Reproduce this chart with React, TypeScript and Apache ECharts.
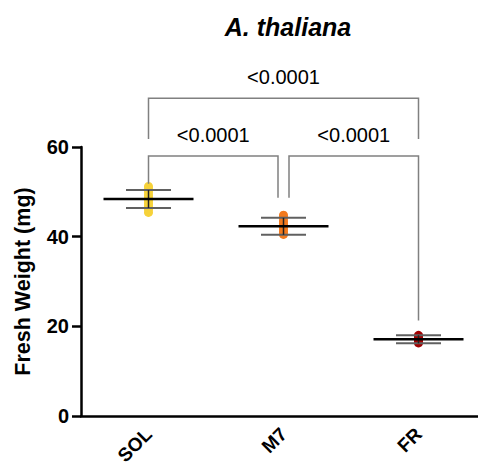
import React, { useEffect, useRef } from 'react';
import * as echarts from 'echarts';

const categories = ['SOL', 'M7', 'FR'];
const solValues = [51.2, 50.6, 50.0, 49.3, 48.7, 48.0, 47.4, 46.8, 46.1, 45.4];
const m7Values = [44.8, 44.2, 43.5, 42.9, 42.3, 41.7, 41.1, 40.5];
const frValues = [18.0, 17.6, 17.3, 17.0, 16.7, 16.3];
const means = [48.4, 42.3, 17.1];
const sds = [2.0, 1.9, 0.9];
const groupColors = ['#F6D23A', '#F27A1F', '#A00000'];
const yTicks = [0, 20, 40, 60];
// [fromCategory, toCategory, barValue, leftLegEndValue, rightLegEndValue]
const brackets = [
  [0, 1, 58, 51.8, 48.7],
  [1, 2, 58, 48.7, 21.3],
  [0, 2, 70.9, 61.8, 61.8],
];
const pLabels = ['<0.0001', '<0.0001', '<0.0001'];

const FONT = '"Liberation Sans", Arial, Helvetica, sans-serif';

export default function App() {
  const ref = useRef<HTMLDivElement>(null);
  useEffect(() => {
    const chart = echarts.init(ref.current!, null, { renderer: 'svg' });
    const groups = [solValues, m7Values, frValues];
    const insets = [[0, -5.5], [5.5, 0], [0, 0]];
    chart.setOption({
      animation: false,
      backgroundColor: '#fff',
      title: {
        text: 'A. thaliana',
        left: 283,
        top: 9,
        textAlign: 'center',
        textStyle: { fontFamily: FONT, fontSize: 25, fontWeight: 'bold', fontStyle: 'italic', color: '#000' },
      },
      grid: { left: 81, right: -8, top: 147, bottom: 52, containLabel: false, outerBoundsMode: 'none' },
      xAxis: {
        type: 'category',
        data: categories,
        boundaryGap: true,
        axisLine: { lineStyle: { color: '#000', width: 2.5 } },
        axisTick: { alignWithLabel: true, length: 8, lineStyle: { color: '#000', width: 2.5 } },
        axisLabel: { rotate: 45, margin: 15, fontFamily: FONT, fontSize: 19, fontWeight: 'bold', color: '#000' },
      },
      yAxis: {
        type: 'value',
        min: yTicks[0],
        max: yTicks[yTicks.length - 1],
        interval: 20,
        name: 'Fresh Weight (mg)',
        nameLocation: 'middle',
        nameRotate: 90,
        nameGap: 47,
        nameTextStyle: { fontFamily: FONT, fontSize: 21.5, fontWeight: 'bold', color: '#000' },
        axisLine: { show: true, lineStyle: { color: '#000', width: 2.5 } },
        axisTick: { show: true, length: 9, inside: false, lineStyle: { color: '#000', width: 2.5 } },
        axisLabel: { margin: 12, fontFamily: FONT, fontSize: 20, fontWeight: 'bold', color: '#000' },
        splitLine: { show: false },
      },
      series: [
        ...groups.map((vals, gi) => ({
          type: 'scatter',
          data: vals.map((v) => [gi, v]),
          symbol: 'circle',
          symbolSize: 9,
          itemStyle: { color: groupColors[gi], opacity: 1 },
          z: 2,
        })),
        {
          type: 'custom',
          z: 3,
          data: means.map((m, i) => [i, m, sds[i]]),
          encode: { x: 0, y: 1 },
          renderItem: (params: any, api: any) => {
            const x = api.value(0);
            const m = api.value(1);
            const s = api.value(2);
            const c = api.coord([x, m]);
            const t = api.coord([x, m + s]);
            const b = api.coord([x, m - s]);
            const capW = 22.5;
            const meanW = 45;
            return {
              type: 'group',
              children: [
                { type: 'line', shape: { x1: c[0] - capW, y1: t[1], x2: c[0] + capW, y2: t[1] }, style: { stroke: '#606060', lineWidth: 2 } },
                { type: 'line', shape: { x1: c[0] - capW, y1: b[1], x2: c[0] + capW, y2: b[1] }, style: { stroke: '#606060', lineWidth: 2 } },
                { type: 'line', shape: { x1: c[0], y1: t[1], x2: c[0], y2: b[1] }, style: { stroke: '#222', lineWidth: 1.5 } },
                { type: 'line', shape: { x1: c[0] - meanW, y1: c[1], x2: c[0] + meanW, y2: c[1] }, style: { stroke: '#000', lineWidth: 2.5 } },
              ],
            };
          },
        },
        {
          type: 'custom',
          z: 4,
          clip: false,
          data: brackets,
          encode: { x: 0, y: 2 },
          renderItem: (params: any, api: any) => {
            const i = params.dataIndex;
            const a = api.value(0);
            const bIdx = api.value(1);
            const yv = api.value(2);
            const l = api.value(3);
            const r = api.value(4);
            const p1 = api.coord([a, yv]);
            const p2 = api.coord([bIdx, yv]);
            const x1 = p1[0] + insets[i][0];
            const x2 = p2[0] + insets[i][1];
            const yL = api.coord([a, l])[1];
            const yR = api.coord([bIdx, r])[1];
            const stroke = '#808080';
            return {
              type: 'group',
              children: [
                { type: 'polyline', shape: { points: [[x1, yL], [x1, p1[1]], [x2, p1[1]], [x2, yR]] }, style: { stroke, lineWidth: 1.5, fill: 'none' } },
                {
                  type: 'text',
                  x: (x1 + x2) / 2,
                  y: p1[1] - 21,
                  style: { text: pLabels[i], fill: '#000', font: `20px ${FONT}`, align: 'center', verticalAlign: 'middle', textAlign: 'center', textVerticalAlign: 'middle' },
                },
              ],
            };
          },
        },
      ],
    });
    return () => chart.dispose();
  }, []);
  return <div ref={ref} style={{ position: 'fixed', left: 0, top: 0, width: 478, height: 468 }} />;
}
